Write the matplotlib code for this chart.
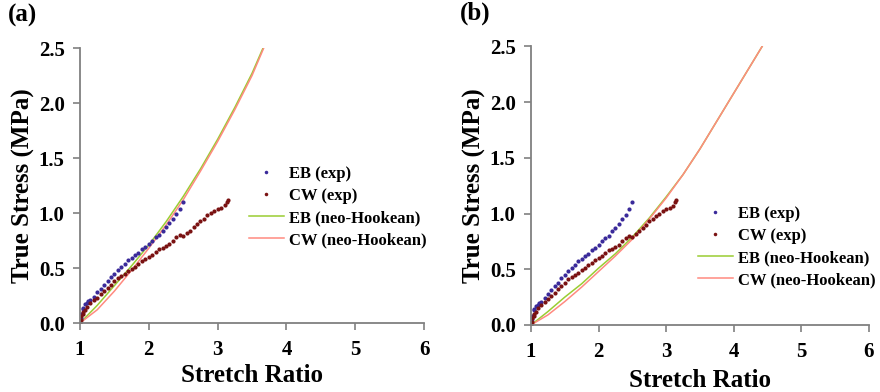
import matplotlib
matplotlib.use("Agg")
import matplotlib.pyplot as plt

plt.rcParams["font.family"] = ["Liberation Serif", "DejaVu Serif"]
plt.rcParams["font.weight"] = "bold"

# experimental data (same in both panels)
eb_x = [1.0, 1.01, 1.02, 1.04, 1.05, 1.07, 1.1, 1.12, 1.15, 1.2, 1.25, 1.3, 1.35, 1.4,
        1.45, 1.5, 1.55, 1.6, 1.65, 1.7, 1.75, 1.8, 1.85, 1.9, 1.95, 2.0, 2.05, 2.1,
        2.15, 2.2, 2.25, 2.3, 2.35, 2.4, 2.45, 2.5]
eb_y = [0.0, 0.05, 0.08, 0.13, 0.14, 0.17, 0.18, 0.20, 0.21, 0.24, 0.28, 0.31, 0.35, 0.38,
        0.42, 0.45, 0.48, 0.51, 0.54, 0.57, 0.59, 0.62, 0.64, 0.67, 0.69, 0.72, 0.75, 0.78,
        0.80, 0.84, 0.87, 0.91, 0.95, 0.99, 1.04, 1.10]

cw_x = [1.0, 1.01, 1.02, 1.04, 1.05, 1.07, 1.1, 1.15, 1.2, 1.25, 1.3, 1.35, 1.4, 1.45,
        1.5, 1.55, 1.6, 1.65, 1.7, 1.75, 1.8, 1.85, 1.9, 1.95, 2.0, 2.05, 2.1, 2.15,
        2.2, 2.25, 2.3, 2.35, 2.4, 2.45, 2.5, 2.55, 2.6, 2.65, 2.7, 2.75, 2.8, 2.85,
        2.9, 2.95, 3.0, 3.05, 3.1, 3.13, 3.15]
cw_y = [0.0, 0.03, 0.06, 0.08, 0.10, 0.12, 0.15, 0.18, 0.21, 0.23, 0.26, 0.29, 0.32, 0.35,
        0.38, 0.41, 0.43, 0.45, 0.47, 0.49, 0.51, 0.54, 0.56, 0.58, 0.60, 0.62, 0.65, 0.67,
        0.68, 0.70, 0.72, 0.75, 0.78, 0.80, 0.79, 0.82, 0.84, 0.87, 0.90, 0.93, 0.95, 0.98,
        1.00, 1.02, 1.04, 1.05, 1.07, 1.10, 1.12]

# neo-Hookean fits, panel (a)
nh_a_x = [1.0, 1.25, 1.5, 1.75, 2.0, 2.25, 2.5, 2.75, 3.0, 3.25, 3.5, 3.66]
nh_a_eb = [0.0, 0.16, 0.34, 0.52, 0.71, 0.92, 1.15, 1.40, 1.67, 1.96, 2.27, 2.5]
nh_a_cw_x = [1.0, 1.25, 1.5, 1.75, 2.0, 2.25, 2.5, 2.75, 3.0, 3.25, 3.5, 3.67]
nh_a_cw = [0.0, 0.12, 0.29, 0.48, 0.68, 0.89, 1.12, 1.38, 1.65, 1.94, 2.25, 2.5]

# neo-Hookean fits, panel (b)
nh_b_x = [1.0, 1.25, 1.5, 1.75, 2.0, 2.25, 2.5, 2.75, 3.0, 3.25, 3.5, 3.75, 4.0, 4.25, 4.42]
nh_b_eb = [0.0, 0.12, 0.25, 0.37, 0.51, 0.64, 0.79, 0.96, 1.15, 1.35, 1.58, 1.83, 2.08, 2.33, 2.5]
nh_b_cw = [0.0, 0.09, 0.21, 0.34, 0.48, 0.62, 0.77, 0.95, 1.14, 1.35, 1.58, 1.83, 2.08, 2.33, 2.5]

EB_COL = "#3a2a9a"
CW_COL = "#7a1212"
EB_NH = "#9acd32"
CW_NH = "#ff8a80"
SPINE = "#808080"

fig = plt.figure(figsize=(8.8, 3.92), dpi=100)
ax_a = fig.add_axes([0.0909, 0.176, 0.391, 0.7015])
ax_b = fig.add_axes([0.6034, 0.171, 0.384, 0.7105])


def draw(ax, nh_eb_x, nh_eb, nh_cw_x, nh_cw, leg_anchor, tag, xpad):
    ax.plot(nh_eb_x, nh_eb, color=EB_NH, lw=1.1, label="EB (neo-Hookean)")
    ax.plot(nh_cw_x, nh_cw, color=CW_NH, lw=1.1, label="CW (neo-Hookean)")
    ax.plot(eb_x, eb_y, ls="none", marker="o", ms=3.0, mew=0, color=EB_COL, label="EB (exp)")
    ax.plot(cw_x, cw_y, ls="none", marker="o", ms=3.0, mew=0, color=CW_COL, label="CW (exp)")

    ax.set_xlim(1, 6)
    ax.set_ylim(0, 2.5)
    ax.set_xticks([1, 2, 3, 4, 5, 6])
    ax.set_yticks([0.0, 0.5, 1.0, 1.5, 2.0, 2.5])
    ax.set_yticklabels(["0.0", "0.5", "1.0", "1.5", "2.0", "2.5"])
    for s in ("top", "right"):
        ax.spines[s].set_visible(False)
    for s in ("left", "bottom"):
        ax.spines[s].set_color(SPINE)
        ax.spines[s].set_linewidth(1.3)
    ax.tick_params(direction="out", length=5, width=1.2, color=SPINE, labelsize=15)
    ax.tick_params(axis="y", pad=6)
    ax.tick_params(axis="x", pad=7)
    ax.set_xlabel("Stretch Ratio", fontsize=18, fontweight="bold", labelpad=xpad)
    ax.set_ylabel("True Stress (MPa)", fontsize=18, fontweight="bold", labelpad=3)

    h, l = ax.get_legend_handles_labels()
    order = [2, 3, 0, 1]
    ax.legend([h[i] for i in order], [l[i] for i in order], loc="upper left",
              bbox_to_anchor=leg_anchor, frameon=False,
              fontsize=12, handlelength=2.1, handletextpad=0.3, labelspacing=0.36,
              borderpad=0, borderaxespad=0, markerscale=0.85)
    ax.text(-0.21, 1.12, tag, transform=ax.transAxes, fontsize=18,
            fontweight="bold", va="center", ha="left")


draw(ax_a, nh_a_x, nh_a_eb, nh_a_cw_x, nh_a_cw, (0.491, 0.57), "(a)", 3)
draw(ax_b, nh_b_x, nh_b_eb, nh_b_x, nh_b_cw, (0.494, 0.427), "(b)", 5)

fig.savefig("out.png", dpi=100)
